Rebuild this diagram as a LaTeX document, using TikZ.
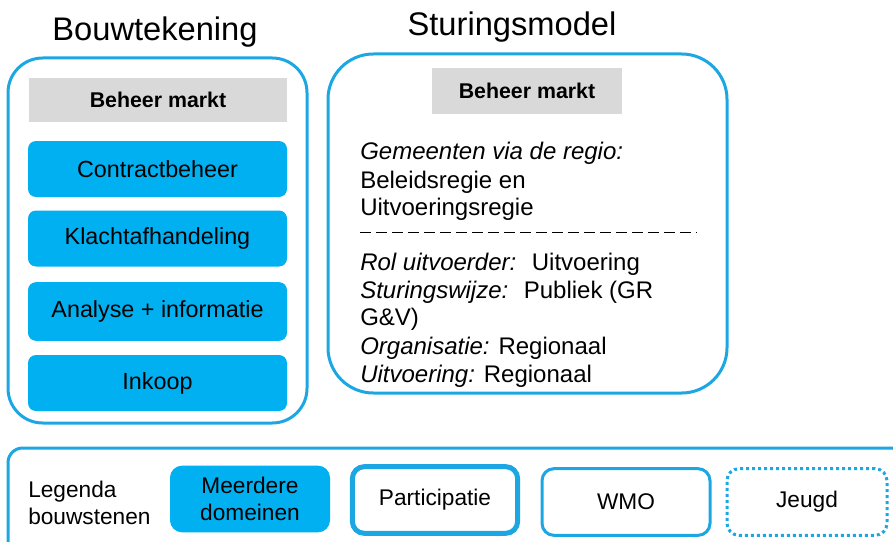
\documentclass[tikz,border=0pt]{standalone}
\usepackage{fontspec}
\setmainfont{Liberation Sans}
\usepackage{xcolor}
\usepackage{tikz}
\definecolor{vulblauw}{HTML}{00B0F0}
\definecolor{lijnblauw}{HTML}{1CA6E2}
\definecolor{grijs}{HTML}{D9D9D9}
\tikzset{
  blok/.style={fill=vulblauw, rounded corners=6pt, minimum width=194.25pt, minimum height=42pt, inner sep=0pt, font=\fontsize{17.5}{20}\selectfont},
  kop/.style={fill=grijs, inner sep=0pt, font=\fontsize{16}{19}\selectfont\bfseries},
  regel/.style={anchor=west, inner sep=0pt, font=\fontsize{18}{21}\selectfont},
  titel/.style={inner sep=0pt, font=\fontsize{24.5}{28}\selectfont},
  legendablok/.style={rounded corners=9pt, minimum width=120pt, minimum height=50pt, inner sep=0pt, align=center, font=\fontsize{17}{20.5}\selectfont},
}

\begin{document}
\begin{tikzpicture}[x=0.75pt,y=-0.75pt]
\useasboundingbox (0,0) rectangle (893,542);
\clip (0,0) rectangle (893,542);
% titels
\node[titel] (bouw) at (155,32) {Bouwtekening};
\node[titel] (sturing) at (512,27) {Sturingsmodel};
% bouwtekening
\draw[lijnblauw, line width=2.25pt, rounded corners=26pt] (8,58) rectangle (307,423);
\node[kop, minimum width=193.5pt, minimum height=33pt] (kopL) at (158,100) {Beheer markt};
\node[blok] (contract) at (157.5,169) {Contractbeheer};
\node[blok] (klacht) at (157.5,238.5) {Klachtafhandeling};
\node[blok, minimum height=44pt] (analyse) at (157.5,311.5) {Analyse + informatie};
\node[blok] (inkoop) at (157.5,383) {Inkoop};
% sturingsmodel
\draw[lijnblauw, line width=2.25pt, rounded corners=34pt] (328,54) rectangle (727,393);
\node[kop, minimum width=142.5pt, minimum height=34.5pt] (kopR) at (527,91) {Beheer markt};
\node[regel] (r1) at (360,153) {\itshape Gemeenten via de regio:};
\node[regel] (r2) at (360,182) {Beleidsregie en};
\node[regel] (r3) at (360,209) {Uitvoeringsregie};
\draw[line width=0.5pt, dash pattern=on 8.5pt off 3.5pt] (360,232) -- (697,232);
\node[regel] (r4) at (360,264) {\textit{Rol uitvoerder:} \ Uitvoering};
\node[regel] (r5) at (360,292) {\textit{Sturingswijze:} \ Publiek (GR};
\node[regel] (r6) at (360,319) {G\&V)};
\node[regel] (r7) at (360,348) {\textit{Organisatie:} Regionaal};
\node[regel] (r8) at (360,376) {\textit{Uitvoering:} Regionaal};
% legenda
\draw[lijnblauw, line width=2.25pt, rounded corners=11pt] (8,448) rectangle (905,560);
\node[regel, align=left, font=\fontsize{17}{20.5}\selectfont] (legenda) at (28,503) {Legenda\\bouwstenen};
\node[legendablok, fill=vulblauw] (meer) at (250,499) {Meerdere\\domeinen};
\node[legendablok, draw=lijnblauw, line width=3.75pt, minimum width=124pt] (part) at (435,500) {Participatie};
\node[legendablok, draw=lijnblauw, line width=2.25pt, minimum width=126pt] (wmo) at (626,502) {WMO};
\node[legendablok, draw=lijnblauw, line width=2.25pt, dash pattern=on 2.25pt off 2.25pt] (jeugd) at (807,502) {Jeugd};
\end{tikzpicture}
\end{document}
